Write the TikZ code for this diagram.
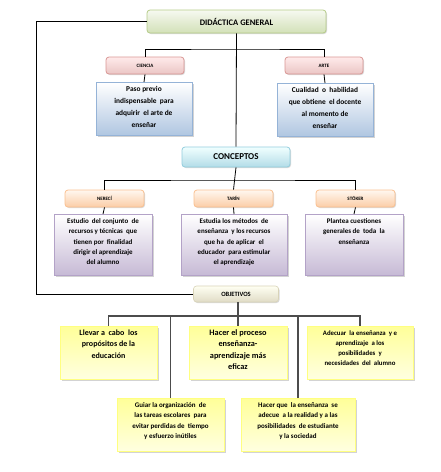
\documentclass[tikz,border=0pt]{standalone}
\usepackage{fontspec}
\setmainfont{Carlito}
\usetikzlibrary{positioning}
\usetikzlibrary{shadows}

\definecolor{grnline}{HTML}{B5CC88}
\definecolor{redline}{HTML}{D99694}
\definecolor{bluline}{HTML}{95B3D7}
\definecolor{aqualine}{HTML}{93CDDD}
\definecolor{orgline}{HTML}{FAC090}
\definecolor{purline}{HTML}{B3A2C7}
\definecolor{tanline}{HTML}{D8D3B8}
\definecolor{yelline}{HTML}{FFFF80}

\tikzset{
  head/.style={draw, rounded corners=3pt, line width=0.8pt, text=black,
    drop shadow={shadow xshift=1pt, shadow yshift=-1pt, opacity=0.3}},
  textbox/.style={draw, rectangle, line width=0.8pt, inner sep=0pt, anchor=north, text=black,
    drop shadow={shadow xshift=1.5pt, shadow yshift=-1.5pt, opacity=0.35}},
  link/.style={line width=0.8pt, black},
  objlink/.style={line width=1.1pt, black!70}
}
% box with text set at the top
\newcommand{\topbox}[5]{\parbox[c][#1pt][t]{#2pt}{\centering\fontsize{#3}{#4}\selectfont\bfseries\rule{0pt}{9pt}#5\par}}

\begin{document}
\begin{tikzpicture}[x=1pt, y=-1pt]
\useasboundingbox (0,0) rectangle (440,472);

% top level
\node[head, draw=grnline, top color=grnline!12, bottom color=grnline!60,
  minimum width=179pt, minimum height=23pt, font=\fontsize{8.5}{10}\selectfont\bfseries] (dg) at (236.5,21.5) {DIDÁCTICA GENERAL};

\node[head, draw=redline, top color=red!8, bottom color=redline!55,
  minimum width=78pt, minimum height=17pt, font=\fontsize{5}{6}\selectfont\bfseries] (ciencia) at (145,65.5) {CIENCIA};
\node[head, draw=redline, top color=red!8, bottom color=redline!55,
  minimum width=78pt, minimum height=17pt, font=\fontsize{5}{6}\selectfont\bfseries] (arte) at (324,65.5) {ARTE};

\node[textbox, draw=bluline, top color=white, bottom color=bluline!75] (paso) at (144,82)
  {\topbox{53}{96}{7.4}{12}{Paso previo\\ indispensable\ \ para\\ adquirir\ \ el arte de\\ enseñar}};
\node[textbox, draw=bluline, top color=white, bottom color=bluline!75] (cualidad) at (325,83)
  {\topbox{53}{96}{7.4}{12}{Cualidad\ \ o\ \ habilidad\\ que obtiene\ \ el docente\\ al momento de\\ enseñar}};

% conceptos
\node[head, draw=aqualine, top color=cyan!6, bottom color=aqualine!70,
  minimum width=108pt, minimum height=20pt, font=\fontsize{9}{10}\selectfont\bfseries] (conceptos) at (236,157) {CONCEPTOS};

\node[head, draw=orgline, top color=orange!6, bottom color=orgline!80,
  minimum width=79pt, minimum height=17pt, font=\fontsize{5}{6}\selectfont\bfseries] (nereci) at (104.5,198.5) {NERECÍ};
\node[head, draw=orgline, top color=orange!6, bottom color=orgline!80,
  minimum width=79pt, minimum height=17pt, font=\fontsize{5}{6}\selectfont\bfseries] (tarin) at (233.5,198.5) {TARÍN};
\node[head, draw=orgline, top color=orange!6, bottom color=orgline!80,
  minimum width=79pt, minimum height=17pt, font=\fontsize{5}{6}\selectfont\bfseries] (stoker) at (355.5,198.5) {STÖKER};

\node[textbox, draw=purline, top color=white, bottom color=purline!75] (estudio) at (103,214)
  {\topbox{61}{98}{7}{10.3}{Estudio\ \ del conjunto\ \ de\\ recursos y técnicas\ \ que\\ tienen por\ \ finalidad\\ dirigir el aprendizaje\\ del alumno}};
\node[textbox, draw=purline, top color=white, bottom color=purline!75] (estudia) at (234,214)
  {\topbox{61}{106}{7}{10.3}{Estudia los métodos\ \ de\\ enseñanza\ \ y los recursos\\ que ha\ \ de aplicar\ \ el\\ educador\ \ para estimular\\ el aprendizaje}};
\node[textbox, draw=purline, top color=white, bottom color=purline!75] (plantea) at (354,214)
  {\topbox{61}{98}{7}{10.3}{Plantea cuestiones\\ generales de\ \ toda\ \ la\\ enseñanza}};

% objetivos
\node[head, draw=tanline, top color=white!95!yellow, bottom color=tanline!80, line width=0.6pt,
  minimum width=85pt, minimum height=16pt, font=\fontsize{6.5}{7}\selectfont\bfseries] (objetivos) at (236,294) {OBJETIVOS};

\node[textbox, draw=yelline, top color=yellow!40, bottom color=yellow!12] (llevar) at (108.5,326)
  {\topbox{53}{97}{8}{11.5}{Llevar a\ \ cabo\ \ los\\ propósitos de la\\ educación}};
\node[textbox, draw=yelline, top color=yellow!40, bottom color=yellow!12] (proceso) at (238,326)
  {\topbox{53}{98}{8.3}{11.3}{Hacer el proceso\\ enseñanza-\\ aprendizaje más\\ eficaz}};
\node[textbox, draw=yelline, top color=yellow!40, bottom color=yellow!12] (adecuar) at (360,326)
  {\topbox{53}{106}{6.8}{10}{Adecuar\ \ la enseñanza\ \ y e\\ aprendizaje\ \ a los\\ posibilidades\ \ y\\ necesidades\ \ del\ \ alumno}};
\node[textbox, draw=yelline, top color=yellow!40, bottom color=yellow!12] (guiar) at (170.5,398)
  {\topbox{53}{107}{7}{10.5}{Guiar la organización\ \ de\\ las tareas escolares\ \ para\\ evitar perdidas\ de\ \ tiempo\\ y esfuerzo inútiles}};
\node[textbox, draw=yelline, top color=yellow!40, bottom color=yellow!12] (hacer) at (298,398)
  {\topbox{53}{114}{7}{10.5}{Hacer que\ \ la enseñanza\ \ se\\ adecue\ \ a la realidad y a las\\ posibilidades\ \ de estudiante\\ y la sociedad}};

% connectors
\coordinate (dgbar) at (236,49);
\coordinate (cbar) at (236,180);
\coordinate (obar) at (238,316);
\coordinate (lft) at (36,294);

\draw[link] (dg.west) -| (lft) -- (objetivos.west);
\draw[link] (dg.south) -- (conceptos.north);
\draw[link] (ciencia.north) |- (dgbar) -| (arte.north);
\draw[link] (ciencia.south) -- (paso.north);
\draw[link] (arte.south) -- (cualidad.north);

\draw[link] (nereci.north) |- (cbar) -| (stoker.north);
\draw[link] (conceptos.south) -- (tarin.north);
\draw[link] (nereci.south) -- (estudio.north);
\draw[link] (tarin.south) -- (estudia.north);
\draw[link] (stoker.south) -- (plantea.north);

\draw[objlink] (objetivos.south -| obar) -- (proceso.north);
\draw[objlink] (llevar.north) |- (obar) -| (adecuar.north);
\draw[objlink] (guiar.north) -- (guiar.north |- obar);
\draw[objlink] (hacer.north) -- (hacer.north |- obar);
\end{tikzpicture}
\end{document}
